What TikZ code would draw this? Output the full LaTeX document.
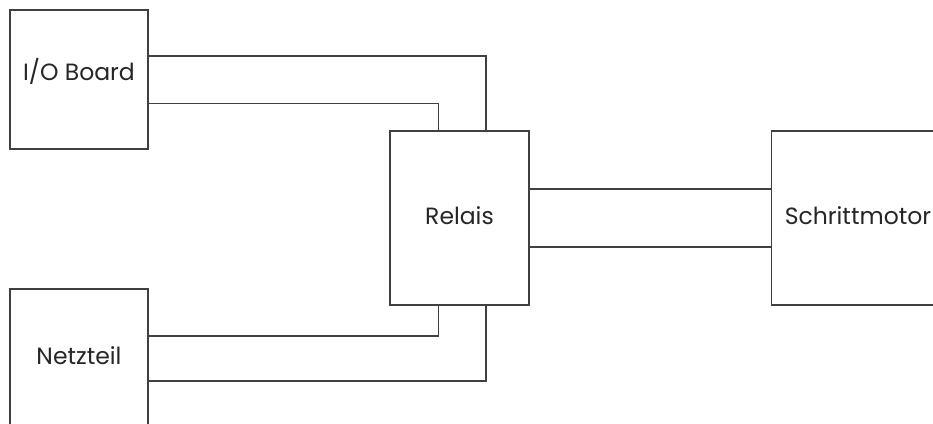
\documentclass[tikz,border=0pt]{standalone}
\usepackage{fontspec}
\setmainfont{Poppins}
\begin{document}
\begin{tikzpicture}[x=1pt,y=-1pt,
  block/.style={draw=black!75,line width=1.2pt,fill=white,inner sep=0pt,
    font=\fontsize{23.5}{28}\selectfont,text=black!85,
    text height=17pt,text depth=5pt},
  wire/.style={draw=black!75,line width=1.2pt}]
  \useasboundingbox (0,0) rectangle (933,423);
  \clip (0,0) rectangle (933,423);
  % blocks
  \node[block,minimum width=138pt,minimum height=139pt,text depth=15pt] (io) at (79,79.5) {I/O Board};
  \node[block,minimum width=138pt,minimum height=139pt] (netz) at (79,358.5) {Netzteil};
  \node[block,minimum width=139pt,minimum height=174pt] (relais) at (459.5,218) {Relais};
  \node[block,minimum width=173pt,minimum height=174pt] (motor) at (858,218) {Schrittmotor};
  % I/O board to relay
  \draw[wire] ([yshift=23.5pt]io.east) -| ([xshift=26.5pt]relais.north);
  \draw[wire] ([yshift=-24pt]io.east) -| ([xshift=-21pt]relais.north);
  % power supply to relay
  \draw[wire] ([yshift=22.5pt]netz.east) -| ([xshift=-21pt]relais.south);
  \draw[wire] ([yshift=-22.5pt]netz.east) -| ([xshift=26.5pt]relais.south);
  % relay to stepper motor
  \draw[wire] ([yshift=29pt]relais.east) -- ([yshift=29pt]relais.east -| motor.west);
  \draw[wire] ([yshift=-29pt]relais.east) -- ([yshift=-29pt]relais.east -| motor.west);
\end{tikzpicture}
\end{document}
